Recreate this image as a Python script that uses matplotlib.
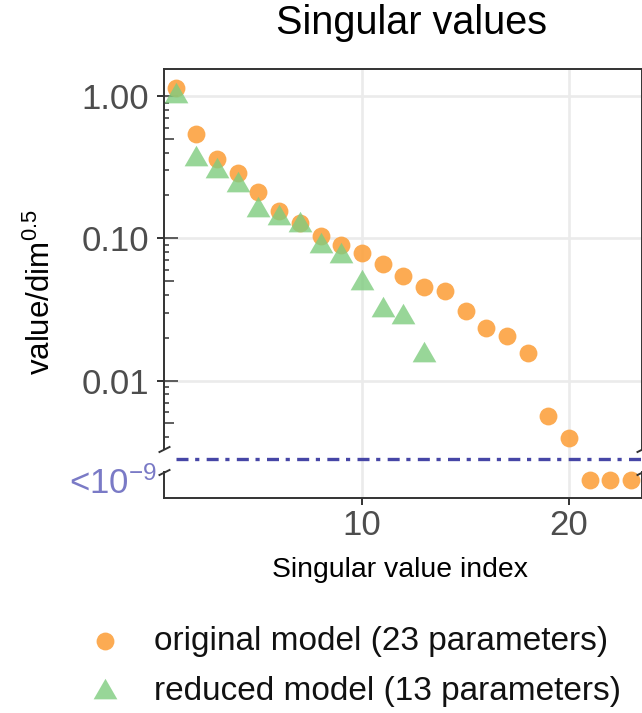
import numpy as np
import matplotlib
matplotlib.use("Agg")
import matplotlib.pyplot as plt
from matplotlib import transforms

plt.rcParams['font.family'] = ['Liberation Sans', 'DejaVu Sans']
plt.rcParams['mathtext.fontset'] = 'custom'
plt.rcParams['mathtext.rm'] = 'Liberation Sans'
plt.rcParams['mathtext.it'] = 'Liberation Sans:italic'
plt.rcParams['mathtext.bf'] = 'Liberation Sans:bold'

# ---- data -------------------------------------------------------------
original_index = np.arange(1, 24)
original_values = np.array([
    1.13, 0.538, 0.359, 0.289, 0.213, 0.156, 0.129, 0.104, 0.0893, 0.0785,
    0.0660, 0.0546, 0.0457, 0.0428, 0.0310, 0.0233, 0.0205, 0.0155,
    0.00565, 0.00393, 3e-12, 2e-12, 1e-12])
reduced_index = np.arange(1, 14)
reduced_values = np.array([
    1.00, 0.360, 0.296, 0.236, 0.157, 0.139, 0.123, 0.0883, 0.0751,
    0.0483, 0.0313, 0.0280, 0.0151])
series_labels = ["original model (23 parameters)",
                 "reduced model (13 parameters)"]
y_ticks = [1.0, 0.1, 0.01]
y_tick_labels = ["1.00", "0.10", "0.01"]
x_ticks = [10, 20]
tiny_threshold = 1e-9
tiny_label = r"<10$^{-9}$"

# ---- styling ----------------------------------------------------------
ORANGE = '#FCA444'
GREEN = '#7FCC7F'
INK = '#333333'
TICK_TXT = '#4D4D4D'
GRID = '#EBEBEB'
DASH_BLUE = '#4646A6'
TINY_TXT = '#7A7AC6'

W, H = 642, 713
fig = plt.figure(figsize=(W / 100, H / 100), dpi=100)


def fx(px):
    return px / W


def fy(py):
    return 1 - py / H


LEFT, RIGHT = 164.3, 641.5
TOP, SPLIT, BOTTOM = 69, 459, 498
ax = fig.add_axes([fx(LEFT), fy(SPLIT), (RIGHT - LEFT) / W, (SPLIT - TOP) / H])
axb = fig.add_axes([fx(LEFT), fy(BOTTOM), (RIGHT - LEFT) / W, (BOTTOM - SPLIT) / H],
                   sharex=ax)

xlim = (0.45, 23.5)
top_ylim = (0.00281, 1.548)
bot_ylim = (-0.857e-9, tiny_threshold)
top_spine_low = 0.0033
bot_spine_high = 0.381e-9

ax.set_xlim(*xlim)
ax.set_yscale('log')
ax.set_ylim(*top_ylim)
axb.set_ylim(*bot_ylim)

circ_size = 165
tri_marker = [(0, 1), (-0.866, -0.5), (0.866, -0.5)]
tri_size = 390

# points above the threshold go in the log panel, the rest in the strip below
o_big = original_values >= tiny_threshold
r_big = reduced_values >= tiny_threshold
h_orig = ax.scatter(original_index[o_big], original_values[o_big], s=circ_size,
                    marker='o', color=ORANGE, alpha=0.92, linewidths=0, zorder=3)
axb.scatter(original_index[~o_big], original_values[~o_big], s=circ_size,
            marker='o', color=ORANGE, alpha=0.92, linewidths=0, zorder=3,
            clip_on=False)
h_red = ax.scatter(reduced_index[r_big], reduced_values[r_big], s=tri_size,
                   marker=tri_marker, color=GREEN, alpha=0.8, linewidths=0, zorder=4)
if (~r_big).any():
    axb.scatter(reduced_index[~r_big], reduced_values[~r_big], s=tri_size,
                marker=tri_marker, color=GREEN, alpha=0.8, linewidths=0, zorder=4)

# grid
for a in (ax, axb):
    a.set_axisbelow(True)
    a.set_xticks(x_ticks)
    a.grid(True, axis='x', color=GRID, lw=1.9)
ax.set_yticks(y_ticks, labels=y_tick_labels)
ax.yaxis.set_minor_locator(matplotlib.ticker.NullLocator())
ax.grid(True, axis='y', which='major', color=GRID, lw=1.9)

# spines
for a in (ax, axb):
    for s in a.spines.values():
        s.set_color(INK)
        s.set_linewidth(1.4)
ax.spines['bottom'].set_visible(False)
axb.spines['top'].set_visible(False)
for side in ('left', 'right'):
    ax.spines[side].set_bounds(top_spine_low, top_ylim[1])
    axb.spines[side].set_bounds(bot_ylim[0], bot_spine_high)

# ticks
ax.tick_params(axis='x', bottom=False, labelbottom=False)
ax.tick_params(axis='y', which='major', direction='out', length=5, width=1.4,
               color=INK, labelsize=25, labelcolor=TICK_TXT, pad=6)
axb.tick_params(axis='x', direction='out', length=5, width=1.4, color=INK,
                labelsize=25, labelcolor=TICK_TXT, pad=3)
axb.set_yticks([0], labels=[tiny_label])
axb.tick_params(axis='y', length=0, labelsize=25, labelcolor=TINY_TXT, pad=5)

# inward log ticks along the left edge of the log panel
blend = transforms.blended_transform_factory(ax.transAxes, ax.transData)
panel_w = RIGHT - LEFT
decades = range(-3, 1)
for k in decades:
    for m in range(1, 10):
        v = m * 10.0 ** k
        if not (top_spine_low <= v <= top_ylim[1]):
            continue
        length_px = 14 if m == 1 else (9.4 if m == 5 else 4.7)
        ax.hlines(v, 0, length_px / panel_w, transform=blend, color=INK,
                  lw=1.1, zorder=2.5)

# threshold line between the panels
axb.hlines(tiny_threshold, original_index[0], xlim[1], color=DASH_BLUE, lw=2.4,
           linestyles=[(0, (3.6, 2.0, 1.25, 2.2))], clip_on=False, zorder=5)

# axis break marks
brk = [(-1, -0.5), (1, 0.5)]
for a, yv in ((ax, top_spine_low), (axb, bot_spine_high)):
    bt = transforms.blended_transform_factory(a.transAxes, a.transData)
    a.plot([0, 1], [yv, yv], transform=bt, linestyle='none', marker=brk,
           markersize=8.5, mew=1.4, mec=INK, mfc='none', clip_on=False, zorder=6)

# texts
fig.text(fx(411), fy(34), "Singular values", ha='center', va='baseline',
         fontsize=28.5, color='black')
fig.text(fx(400.5), fy(577), "Singular value index", ha='center', va='baseline',
         fontsize=20.4, color='black')
fig.text(fx(41), fy(292), "value/dim$^{0.5}$", rotation=90, ha='center',
         va='center', fontsize=22.5, color='black')

# legend
fig.legend(handles=[h_orig, h_red], labels=series_labels, loc='upper left',
           bbox_to_anchor=(fx(88), fy(626)), frameon=False, fontsize=24,
           handlelength=1.0, handletextpad=0.97, labelspacing=0.58,
           borderpad=0, borderaxespad=0, labelcolor='#111111')

fig.savefig('out.png', dpi=100)
